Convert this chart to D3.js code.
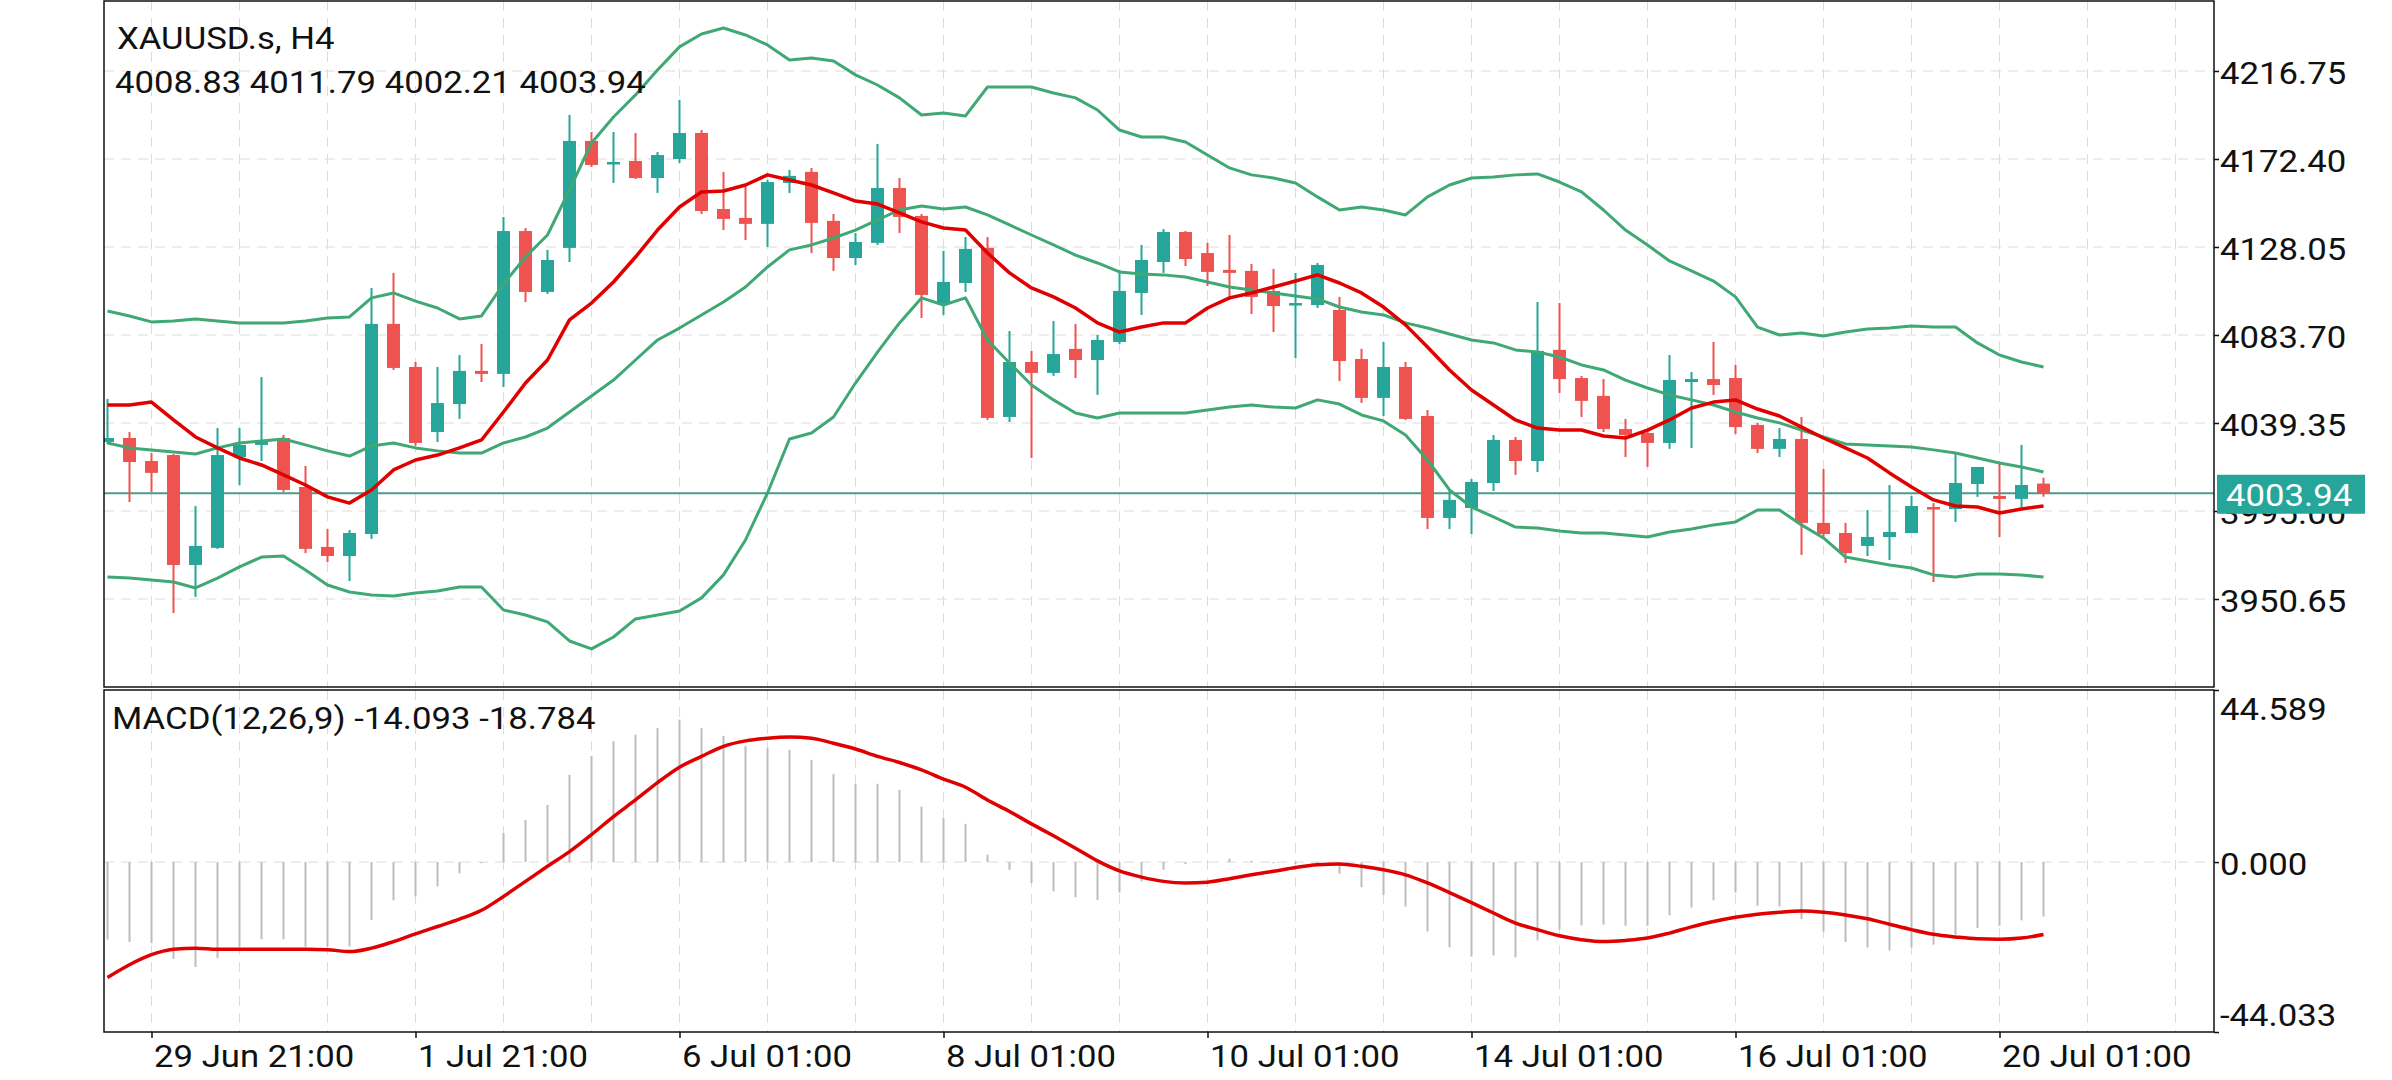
<!DOCTYPE html>
<html>
<head>
<meta charset="utf-8">
<script src="https://cdn.jsdelivr.net/npm/d3@7"></script>
<style>
  body { margin: 0; background: #fff; }
  text { font-family: Roboto, "Noto Sans", sans-serif; }
</style>
</head>
<body>
<div class="chart"></div>
<script>
// XAUUSD.s H4 candles with Bollinger bands, a moving average and MACD below

var symbolName = "XAUUSD.s, H4";

// candles, oldest first
var opens = [4029.8,4031.8,4020.2,4023.2,3967.8,3976.4,4022.2,4028.3,4031.8,4007.1,
  3976.9,3972.3,3983.4,4089.3,4067.6,4034.8,4048.9,4065.6,4064.1,4136.1,
  4105.4,4127.6,4181.5,4169.9,4171.4,4162.8,4172.4,4185.5,4147.2,4142.7,
  4139.7,4160.3,4165.9,4141.2,4122.5,4130.1,4157.8,4143.7,4099.3,4109.9,
  4127.6,4042.4,4070.1,4064.6,4076.7,4071.1,4080.2,4104.9,4120.5,4135.6,
  4125.0,4116.5,4116.0,4105.9,4098.8,4098.8,4096.3,4071.6,4052.0,4067.6,
  4042.9,3991.5,3996.5,4009.1,4030.8,4020.2,4076.2,4062.0,4053.0,4036.3,
  4034.3,4029.3,4060.0,4061.5,4062.0,4038.4,4026.3,4031.3,3989.0,3983.9,
  3977.4,3981.9,3983.9,3997.0,3996.0,4008.6,4002.6,4001.1,4008.83];
var highs = [4051.5,4034.8,4024.2,4023.7,3997.5,4036.8,4036.8,4062.5,4033.3,4017.7,
  3985.9,3985.4,4107.4,4115.0,4070.1,4067.6,4073.6,4079.2,4143.2,4137.6,
  4126.6,4194.6,4186.0,4186.0,4185.5,4175.9,4202.2,4187.0,4165.9,4159.3,
  4161.8,4166.9,4167.9,4144.7,4135.1,4180.0,4162.8,4144.7,4126.1,4133.1,
  4133.1,4085.7,4075.7,4090.8,4089.3,4083.7,4116.5,4129.1,4137.1,4136.1,
  4130.1,4134.1,4119.5,4117.0,4115.0,4120.0,4102.9,4076.7,4080.2,4070.1,
  4045.9,4005.6,4011.1,4033.3,4032.3,4100.3,4099.8,4063.1,4061.5,4041.4,
  4035.8,4073.6,4065.1,4080.2,4068.6,4039.4,4036.8,4042.4,4016.2,3989.0,
  3995.5,4008.1,4002.6,3999.0,4023.7,4017.2,4019.7,4028.3,4011.79];
var lows = [4028.8,3999.5,4004.6,3943.6,3951.7,3975.9,4008.1,4020.2,4004.6,3973.8,
  3969.3,3959.7,3980.9,4066.1,4027.8,4029.8,4041.4,4060.0,4057.5,4100.3,
  4104.4,4120.5,4168.4,4160.3,4162.3,4155.3,4170.4,4144.7,4136.6,4131.6,
  4128.1,4155.3,4125.0,4116.0,4119.0,4129.1,4135.1,4092.3,4093.8,4105.4,
  4040.9,4039.9,4021.7,4063.1,4062.0,4053.5,4079.2,4093.8,4115.0,4118.5,
  4108.4,4101.4,4094.3,4085.2,4072.1,4097.3,4060.5,4049.4,4042.9,4040.9,
  3985.9,3985.9,3983.4,4005.1,4013.2,4014.7,4054.5,4042.4,4034.8,4022.2,
  4017.2,4026.3,4026.8,4053.5,4033.8,4024.2,4022.2,3972.8,3980.9,3968.8,
  3972.3,3970.3,3983.9,3959.2,3989.5,4002.1,3981.9,3996.7,4002.21];
var closes = [4031.8,4019.7,4014.2,3967.8,3977.4,4023.2,4028.3,4030.8,4005.6,3975.9,
  3972.3,3983.9,4089.3,4067.1,4029.3,4049.4,4065.6,4064.1,4136.1,4105.4,
  4121.5,4181.5,4169.4,4170.9,4162.8,4174.4,4185.5,4146.2,4142.2,4139.7,
  4160.8,4163.9,4140.2,4122.5,4130.6,4157.8,4143.2,4103.9,4110.4,4127.1,
  4041.9,4070.1,4064.6,4074.1,4071.1,4081.2,4105.9,4121.5,4135.6,4122.0,
  4115.5,4115.0,4102.9,4098.3,4099.8,4119.0,4070.6,4052.0,4067.6,4041.4,
  3991.5,4000.6,4009.6,4030.8,4020.2,4075.7,4061.5,4050.5,4036.3,4033.3,
  4029.3,4061.0,4061.5,4058.5,4037.3,4026.3,4031.3,3989.0,3983.4,3973.8,
  3981.9,3984.4,3997.5,3996.0,4009.1,4017.2,4001.1,4008.1,4003.94];

// bollinger bands
var bbUpper = [4095.8,4093.3,4090.3,4090.8,4091.8,4090.8,4089.8,4089.8,4089.8,4090.8,
  4092.3,4092.8,4102.4,4104.9,4100.8,4097.3,4091.8,4093.3,4109.4,4123.0,
  4134.1,4156.8,4180.5,4193.6,4204.7,4217.3,4228.9,4235.4,4238.4,4234.9,
  4229.9,4222.3,4223.3,4221.8,4214.8,4209.7,4203.2,4194.6,4195.6,4194.1,
  4208.7,4208.7,4208.7,4205.7,4203.2,4197.1,4187.0,4183.5,4183.5,4181.0,
  4174.4,4167.9,4164.4,4162.8,4160.3,4153.3,4146.7,4148.2,4146.7,4144.2,
  4153.3,4159.3,4162.8,4163.3,4164.4,4164.9,4160.8,4155.8,4146.7,4136.6,
  4129.1,4121.0,4116.0,4110.9,4102.9,4087.7,4083.7,4084.7,4083.2,4085.2,
  4086.7,4087.2,4088.2,4087.7,4087.7,4079.7,4073.6,4070.1,4067.6];
var bbMiddle = [4029.3,4026.8,4025.8,4024.7,4023.7,4026.8,4029.3,4030.3,4031.3,4028.3,
  4025.3,4022.7,4027.8,4029.3,4026.8,4025.3,4024.2,4024.2,4029.3,4032.3,
  4036.8,4044.9,4053.0,4061.0,4071.1,4081.2,4087.2,4093.8,4100.3,4107.9,
  4118.0,4126.6,4129.1,4132.6,4136.6,4141.7,4146.7,4148.7,4147.2,4148.2,
  4144.2,4139.2,4134.1,4129.1,4124.0,4120.0,4115.5,4114.5,4114.0,4112.9,
  4110.4,4107.9,4106.4,4104.9,4103.4,4101.9,4097.8,4095.3,4093.8,4089.8,
  4087.2,4084.2,4081.2,4079.7,4076.2,4075.1,4072.6,4068.6,4066.1,4061.0,
  4057.0,4053.5,4051.0,4048.4,4044.9,4041.9,4039.4,4035.8,4032.3,4028.8,
  4028.3,4027.8,4027.3,4025.8,4024.2,4021.7,4019.2,4017.2,4014.7];
var bbLower = [3961.7,3961.2,3960.2,3959.2,3956.2,3961.2,3966.8,3971.8,3972.3,3965.3,
  3957.7,3954.2,3952.7,3952.2,3953.7,3954.7,3956.7,3956.7,3945.1,3942.6,
  3939.1,3929.5,3925.5,3931.5,3940.6,3942.6,3944.6,3951.2,3962.8,3980.4,
  4004.1,4031.3,4034.3,4042.4,4059.5,4075.1,4089.8,4102.4,4098.8,4102.4,
  4081.2,4069.6,4058.5,4051.0,4044.4,4041.9,4044.4,4044.4,4044.4,4044.4,
  4045.9,4047.4,4048.4,4047.4,4046.9,4051.0,4048.9,4043.4,4040.4,4033.3,
  4020.7,4005.6,3997.0,3992.0,3986.9,3986.4,3984.9,3983.9,3983.9,3982.9,
  3981.9,3984.4,3985.9,3988.0,3989.5,3995.5,3995.5,3988.0,3981.4,3971.8,
  3969.8,3967.8,3966.3,3962.8,3961.7,3963.3,3963.3,3962.8,3961.7];

// red moving average
var maLine = [4048.4,4048.4,4049.9,4040.9,4032.3,4026.8,4021.7,4018.2,4013.2,4008.1,
  4002.1,3999.0,4005.6,4015.7,4020.7,4023.2,4026.8,4030.8,4044.9,4059.5,
  4071.1,4091.3,4099.8,4110.4,4123.0,4136.6,4148.2,4155.8,4156.3,4159.3,
  4164.4,4161.8,4159.3,4155.3,4151.2,4149.7,4145.2,4140.7,4137.6,4136.6,
  4125.0,4115.0,4107.4,4102.9,4097.3,4089.8,4085.2,4087.7,4089.8,4089.8,
  4097.3,4102.4,4104.9,4107.9,4110.9,4114.0,4109.9,4104.9,4097.8,4088.8,
  4077.7,4066.1,4056.0,4048.4,4040.9,4036.8,4035.8,4035.8,4032.8,4031.8,
  4035.8,4040.9,4046.9,4049.9,4051.0,4046.4,4042.9,4037.3,4031.8,4026.8,
  4021.7,4014.2,4007.1,4000.6,3997.5,3997.0,3994.0,3996.0,3997.5];

// MACD(12,26,9): main as grey bars, signal as red line
var macdMain = [-20.1,-20.7,-21.0,-25.1,-27.2,-24.9,-21.9,-20.0,-20.0,-21.9,
  -21.9,-21.9,-15.0,-9.9,-8.9,-6.3,-2.9,-0.3,7.5,10.9,
  14.8,22.6,27.5,31.3,33.0,34.7,36.9,34.7,32.7,30.1,
  29.5,29.1,26.5,22.8,20.3,20.3,18.7,14.4,11.4,9.9,
  1.9,-2.0,-5.4,-7.6,-9.1,-9.8,-7.9,-5.0,-2.0,-0.5,
  -0.1,0.9,0.3,-0.3,-0.5,-0.3,-3.0,-6.5,-8.5,-11.5,
  -18.0,-22.1,-24.5,-24.2,-24.7,-20.3,-17.5,-16.4,-16.2,-16.5,
  -16.5,-13.8,-11.8,-9.9,-7.9,-11.3,-11.5,-14.8,-18.0,-20.7,
  -22.1,-22.9,-22.1,-21.4,-18.8,-17.1,-16.5,-15.1,-14.093];
var macdSignal = [-29.9,-26.6,-24.0,-22.6,-22.3,-22.6,-22.6,-22.6,-22.6,-22.6,
  -22.7,-23.2,-22.3,-20.6,-18.6,-16.7,-14.8,-12.5,-8.9,-5.0,
  -1.1,2.7,7.1,11.8,16.1,20.6,24.6,27.4,30.0,31.4,
  32.1,32.4,32.1,30.8,29.3,27.4,25.8,23.9,21.5,19.4,
  16.1,13.1,9.9,6.8,3.6,0.3,-2.3,-3.9,-5.0,-5.4,
  -5.2,-4.3,-3.3,-2.4,-1.4,-0.7,-0.5,-1.1,-2.0,-3.3,
  -5.4,-7.9,-10.5,-13.2,-15.8,-17.5,-19.1,-20.1,-20.6,-20.3,
  -19.7,-18.4,-16.8,-15.4,-14.3,-13.5,-13.0,-12.7,-13.0,-13.7,
  -14.7,-16.1,-17.5,-18.7,-19.4,-19.9,-20.0,-19.7,-18.784];

// axis ticks
var priceTicks = [3950.65, 3995.00, 4039.35, 4083.70, 4128.05, 4172.40, 4216.75];
var macdTicks = [44.589, 0, -44.033];
var timeIdx = [2, 14, 26, 38, 50, 62, 74, 86];
var timeLabels = ["29 Jun 21:00", "1 Jul 21:00", "6 Jul 01:00", "8 Jul 01:00",
  "10 Jul 01:00", "14 Jul 01:00", "16 Jul 01:00", "20 Jul 01:00"];

// layout
var svgWidth = 2392;
var svgHeight = 1080;
var plotLeft = 104, plotRight = 2214;
var mainTop = 1, mainBottom = 687;
var macdTop = 690, macdBottom = 1032;

var bullColor = "#26a69a";
var bearColor = "#ef5350";
var bandColor = "#3fa874";
var maColor = "#e00000";
var gridColor = "#dcdcdc";
var fontSize = 31;
var stretch = 1.12;

var svg = d3.select(".chart")
  .append("svg")
  .attr("width", svgWidth)
  .attr("height", svgHeight);

svg.append("rect")
  .attr("width", svgWidth)
  .attr("height", svgHeight)
  .attr("fill", "#fff");

// scales
var xScale = d3.scaleLinear().domain([0, 88]).range([107.5, 2043.5]);
var yScale = d3.scaleLinear().domain([3906.30, 4252.03]).range([mainBottom, mainTop]);
var mScale = d3.scaleLinear().domain([-44.033, 44.589]).range([macdBottom, macdTop]);

var defs = svg.append("defs");
defs.append("clipPath").attr("id", "clipMain")
  .append("rect")
  .attr("x", plotLeft).attr("y", mainTop)
  .attr("width", plotRight - plotLeft).attr("height", mainBottom - mainTop);
defs.append("clipPath").attr("id", "clipMacd")
  .append("rect")
  .attr("x", plotLeft).attr("y", macdTop)
  .attr("width", plotRight - plotLeft).attr("height", macdBottom - macdTop);

function stretchText(sel, dx, dy) {
  sel.attr("x", null).attr("y", null).attr("dy", null)
    .attr("transform", "translate(" + dx + "," + dy + ") scale(" + stretch + ",1)")
    .attr("font-size", fontSize)
    .attr("font-family", "Roboto, 'Noto Sans', sans-serif")
    .attr("fill", "#111");
}

function label(x, y, str, color) {
  var t = svg.append("text");
  stretchText(t, x, y);
  t.attr("fill", color || "#111").text(str);
  return t;
}

// grid
var gridIdx = d3.range(2, 96, 4);
var grid = svg.append("g")
  .attr("stroke", gridColor)
  .attr("stroke-width", 1)
  .attr("stroke-dasharray", "10,7");

[[mainTop, mainBottom], [macdTop, macdBottom]].forEach(function(span) {
  grid.selectAll(null)
    .data(gridIdx)
    .enter().append("line")
      .attr("x1", function(d) { return xScale(d); })
      .attr("x2", function(d) { return xScale(d); })
      .attr("y1", span[0])
      .attr("y2", span[1]);
});

grid.selectAll(null)
  .data(priceTicks)
  .enter().append("line")
    .attr("x1", plotLeft)
    .attr("x2", plotRight)
    .attr("y1", function(d) { return yScale(d); })
    .attr("y2", function(d) { return yScale(d); });

grid.append("line")
  .attr("x1", plotLeft).attr("x2", plotRight)
  .attr("y1", mScale(0)).attr("y2", mScale(0));

// main panel
var chart = svg.append("g").attr("clip-path", "url(#clipMain)");
var lastClose = closes[closes.length - 1];

chart.append("line")
  .attr("x1", plotLeft).attr("x2", plotRight)
  .attr("y1", yScale(lastClose)).attr("y2", yScale(lastClose))
  .attr("stroke", "#4b9a8d")
  .attr("stroke-width", 2.2);

var candles = chart.selectAll(".candle")
  .data(opens)
  .enter().append("g")
    .attr("class", "candle")
    .attr("fill", function(d, i) { return closes[i] >= d ? bullColor : bearColor; })
    .attr("stroke", function(d, i) { return closes[i] >= d ? bullColor : bearColor; });

candles.append("line")
  .attr("x1", function(d, i) { return xScale(i); })
  .attr("x2", function(d, i) { return xScale(i); })
  .attr("y1", function(d, i) { return yScale(highs[i]); })
  .attr("y2", function(d, i) { return yScale(lows[i]); })
  .attr("stroke-width", 2);

candles.append("rect")
  .attr("x", function(d, i) { return xScale(i) - 6.5; })
  .attr("width", 13)
  .attr("y", function(d, i) { return yScale(Math.max(d, closes[i])); })
  .attr("height", function(d, i) {
    return Math.max(2.5, yScale(Math.min(d, closes[i])) - yScale(Math.max(d, closes[i])));
  })
  .attr("stroke", "none");

var priceLine = d3.line()
  .x(function(d, i) { return xScale(i); })
  .y(function(d) { return yScale(d); });

[bbUpper, bbMiddle, bbLower].forEach(function(band) {
  chart.append("path")
    .attr("d", priceLine(band))
    .attr("fill", "none")
    .attr("stroke", bandColor)
    .attr("stroke-width", 3)
    .attr("stroke-linejoin", "round");
});

chart.append("path")
  .attr("d", priceLine(maLine))
  .attr("fill", "none")
  .attr("stroke", maColor)
  .attr("stroke-width", 3.5)
  .attr("stroke-linejoin", "round");

// MACD panel
var macd = svg.append("g").attr("clip-path", "url(#clipMacd)");

macd.selectAll(".bar")
  .data(macdMain)
  .enter().append("line")
    .attr("class", "bar")
    .attr("x1", function(d, i) { return xScale(i); })
    .attr("x2", function(d, i) { return xScale(i); })
    .attr("y1", mScale(0))
    .attr("y2", function(d) { return mScale(d); })
    .attr("stroke", "#bdbdbd")
    .attr("stroke-width", 2);

macd.append("path")
  .attr("d", d3.line()
    .x(function(d, i) { return xScale(i); })
    .y(function(d) { return mScale(d); })
    .curve(d3.curveMonotoneX)(macdSignal))
  .attr("fill", "none")
  .attr("stroke", maColor)
  .attr("stroke-width", 3.5);

// panel borders
svg.append("rect")
  .attr("x", plotLeft).attr("y", mainTop)
  .attr("width", plotRight - plotLeft).attr("height", mainBottom - mainTop)
  .attr("fill", "none").attr("stroke", "#111").attr("stroke-width", 1.5);
svg.append("rect")
  .attr("x", plotLeft).attr("y", macdTop)
  .attr("width", plotRight - plotLeft).attr("height", macdBottom - macdTop)
  .attr("fill", "none").attr("stroke", "#111").attr("stroke-width", 1.5);

// price axis
var yAxisG = svg.append("g")
  .attr("transform", "translate(" + plotRight + ",0)")
  .call(d3.axisRight(yScale)
    .tickValues(priceTicks)
    .tickFormat(function(d) { return d.toFixed(2); })
    .tickSize(5)
    .tickSizeOuter(0));
yAxisG.select(".domain").remove();
yAxisG.selectAll(".tick line").attr("stroke", "#111").attr("stroke-width", 1.5);
stretchText(yAxisG.selectAll(".tick text").attr("text-anchor", "start"), 6, 12.5);

// macd axis
var mAxisG = svg.append("g")
  .attr("transform", "translate(" + plotRight + ",0)")
  .call(d3.axisRight(mScale)
    .tickValues(macdTicks)
    .tickFormat(function(d) { return d.toFixed(3); })
    .tickSize(5)
    .tickSizeOuter(0));
mAxisG.select(".domain").remove();
mAxisG.selectAll(".tick line").attr("stroke", "#111").attr("stroke-width", 1.5);
mAxisG.selectAll(".tick text").each(function(d) {
  var dy = d > 0 ? 29 : (d < 0 ? -7 : 12);
  stretchText(d3.select(this).attr("text-anchor", "start"), 6, dy);
});

// time axis
var xAxisG = svg.append("g")
  .attr("transform", "translate(0," + macdBottom + ")")
  .call(d3.axisBottom(xScale)
    .tickValues(timeIdx)
    .tickFormat(function(d, i) { return timeLabels[i]; })
    .tickSize(6)
    .tickSizeOuter(0));
xAxisG.select(".domain").remove();
xAxisG.selectAll(".tick line").attr("stroke", "#111").attr("stroke-width", 1.5);
stretchText(xAxisG.selectAll(".tick text").attr("text-anchor", "start"), 2, 35);

// current price tag, drawn over the 3995.00 label as in the source
var tagY = yScale(lastClose);
svg.append("rect")
  .attr("x", 2217).attr("y", tagY - 18.5)
  .attr("width", 148).attr("height", 39)
  .attr("fill", bullColor);
label(2226, tagY + 12.5, lastClose.toFixed(2), "#fff");

// header texts
var last = opens.length - 1;
label(117, 49, symbolName);
label(115, 93, [opens[last], highs[last], lows[last], closes[last]].map(function(v) {
  return v.toFixed(2);
}).join(" "));
label(112, 729, "MACD(12,26,9) " + macdMain[last].toFixed(3) + " " + macdSignal[last].toFixed(3));
</script>
</body>
</html>
